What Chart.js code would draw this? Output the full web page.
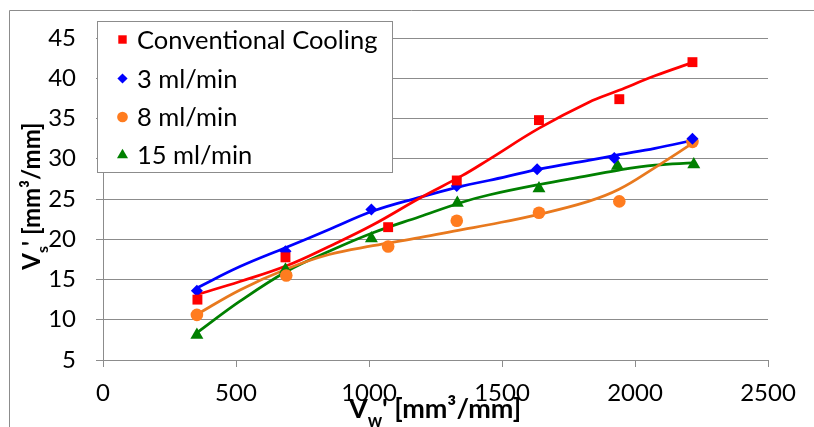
<!DOCTYPE html>
<html>
<head>
<meta charset="utf-8">
<script src="https://cdn.jsdelivr.net/npm/chart.js@4.4.1/dist/chart.umd.min.js"></script>
<style>
  body { margin: 0; background: #fff; }
  canvas { display: block; }
</style>
</head>
<body>
<canvas id="grafico" width="814" height="427"></canvas>
<script>
/* ==============================================
   DATA
   ============================================== */
const seriesNames = ['Conventional Cooling', '3 ml/min', '8 ml/min', '15 ml/min'];

const convX = [355, 686, 1072, 1330, 1639, 1941, 2216];
const convY = [12.5, 17.75, 21.5, 27.3, 34.8, 37.4, 42.0];
const ml3X  = [353, 686, 1009, 1330, 1632, 1922, 2216];
const ml3Y  = [13.6, 18.5, 23.7, 26.6, 28.7, 30.1, 32.5];
const ml8X  = [353, 689, 1072, 1330, 1639, 1941, 2216];
const ml8Y  = [10.6, 15.5, 19.1, 22.3, 23.3, 24.7, 32.1];
const ml15X = [353, 686, 1009, 1332, 1639, 1934, 2221];
const ml15Y = [8.1, 16.2, 20.1, 24.5, 26.3, 29.1, 29.3];

// trend lines at these x positions
const trendX    = [350, 515, 690, 850, 1015, 1190, 1350, 1450, 1640, 1825, 1940, 2075, 2220];
const trendConv = [13.1, 14.75, 16.7, 19.1, 21.8, 25.1, 27.9, 29.9, 33.8, 37.0, 38.5, 40.3, 42.0];
const trend3    = [13.9, 16.6, 19.0, 21.2, 23.5, 25.2, 26.6, 27.3, 28.7, 29.8, 30.5, 31.3, 32.3];
const trend8    = [10.6, 13.7, 16.3, 18.1, 19.2, 20.2, 21.2, 21.8, 23.1, 24.7, 26.2, 28.9, 32.0];
const trend15   = [8.3, 12.3, 16.0, 18.5, 20.8, 22.8, 24.6, 25.5, 26.8, 27.9, 28.6, 29.2, 29.5];

const xTicks = [0, 500, 1000, 1500, 2000, 2500];
const yTicks = [5, 10, 15, 20, 25, 30, 35, 40, 45];

/* ==============================================
   STYLE
   ============================================== */
const markerColors = ['#ff0000', '#0000ff', '#ff7c1f', '#008000'];
const lineColors   = ['#ff0000', '#0000ff', '#e8791e', '#008000'];
const markerStyles = ['rect', 'rectRot', 'circle', 'triangle'];
const markerRadius = [7, 6, 6.3, 7.5];
const gridGray = '#8c8c8c';
const FONTE = 'Lato, "Open Sans", sans-serif';

const pontos = (xs, ys) => xs.map((x, i) => ({ x: x, y: ys[i] }));

const seriesData = [pontos(convX, convY), pontos(ml3X, ml3Y), pontos(ml8X, ml8Y), pontos(ml15X, ml15Y)];
const trendData  = [trendConv, trend3, trend8, trend15].map(t => pontos(trendX, t));

const datasets = [];
trendData.forEach((d, i) => {
    datasets.push({
        type: 'line',
        label: seriesNames[i] + ' trend',
        data: d,
        showLine: true,
        borderColor: lineColors[i],
        borderWidth: 2.75,
        pointRadius: 0,
        tension: 0.4,
        fill: false,
        order: 2
    });
});
seriesData.forEach((d, i) => {
    datasets.push({
        type: 'scatter',
        label: seriesNames[i],
        data: d,
        showLine: false,
        pointStyle: markerStyles[i],
        pointRadius: markerRadius[i],
        pointBackgroundColor: markerColors[i],
        pointBorderColor: markerColors[i],
        pointBorderWidth: 0,
        order: 1
    });
});

/* ==============================================
   EXTRAS: frame, legend, axis titles
   ============================================== */
function textoComIndice(ctx, cx, cy, partes, tam) {
    const fontes = partes.map(p => 'bold ' + (p.sub ? Math.round(tam * 0.65) : tam) + 'px ' + FONTE);
    let total = 0;
    partes.forEach((p, i) => { ctx.font = fontes[i]; total += ctx.measureText(p.t).width; });
    let x = cx - total / 2;
    ctx.textAlign = 'left';
    ctx.textBaseline = 'alphabetic';
    partes.forEach((p, i) => {
        ctx.font = fontes[i];
        ctx.fillText(p.t, x, cy + (p.sub ? tam * 0.32 : 0));
        x += ctx.measureText(p.t).width;
    });
}

const extras = {
    id: 'extras',
    beforeDraw(chart) {
        const ctx = chart.ctx;
        ctx.save();
        ctx.fillStyle = '#fff';
        ctx.fillRect(0, 0, chart.width, chart.height);
        ctx.strokeStyle = gridGray;
        ctx.lineWidth = 1;
        ctx.beginPath();
        ctx.moveTo(9.5, chart.height);
        ctx.lineTo(9.5, 10.5);
        ctx.lineTo(chart.width, 10.5);
        ctx.stroke();
        ctx.restore();
    },
    afterDraw(chart) {
        const ctx = chart.ctx;
        ctx.save();
        // legend box
        ctx.fillStyle = '#fff';
        ctx.fillRect(97.5, 21.5, 295, 151);
        ctx.strokeStyle = gridGray;
        ctx.lineWidth = 1;
        ctx.strokeRect(97.5, 21.5, 295, 151);
        const linhas = [39.5, 78.5, 117, 155];
        seriesNames.forEach((nome, i) => {
            ctx.fillStyle = markerColors[i];
            ctx.strokeStyle = markerColors[i];
            Chart.helpers.drawPoint(ctx, { pointStyle: markerStyles[i], radius: markerRadius[i] * 0.85, borderWidth: 0 }, 122.5, linhas[i]);
            ctx.fillStyle = '#000';
            ctx.font = '25.5px ' + FONTE;
            ctx.textAlign = 'left';
            ctx.textBaseline = 'middle';
            ctx.fillText(nome, 137, linhas[i] + 1);
        });
        // axis titles
        ctx.fillStyle = '#000';
        textoComIndice(ctx, 435, 418, [{ t: 'V' }, { t: 'w', sub: true }, { t: "' [mm³/mm]" }], 27);
        ctx.translate(40, 196);
        ctx.rotate(-Math.PI / 2);
        textoComIndice(ctx, 0, 0, [{ t: 'V' }, { t: 's', sub: true }, { t: "' [mm³/mm]" }], 24);
        ctx.restore();
    }
};

/* ==============================================
   CHART
   ============================================== */
const grafico = new Chart(document.getElementById('grafico').getContext('2d'), {
    type: 'scatter',
    data: { datasets: datasets },
    options: {
        responsive: false,
        animation: false,
        layout: { padding: { top: 38, right: 46, left: 0, bottom: 0 } },
        plugins: { legend: { display: false }, tooltip: { enabled: false } },
        scales: {
            x: {
                type: 'linear',
                min: xTicks[0],
                max: xTicks[xTicks.length - 1],
                afterBuildTicks: s => { s.ticks = xTicks.map(v => ({ value: v })); },
                afterFit: s => { s.height = 67; },
                grid: { drawOnChartArea: false, drawTicks: true, tickLength: 7, color: gridGray },
                border: { color: gridGray, width: 1 },
                ticks: { color: '#000', font: { family: FONTE, size: 24 }, padding: 12, maxRotation: 0, callback: v => String(v) }
            },
            y: {
                type: 'linear',
                min: yTicks[0],
                max: yTicks[yTicks.length - 1],
                afterBuildTicks: s => { s.ticks = yTicks.map(v => ({ value: v })); },
                afterFit: s => { s.width = 103; },
                grid: { color: gridGray, tickLength: 7, lineWidth: 1 },
                border: { color: gridGray, width: 1 },
                ticks: { color: '#000', font: { family: FONTE, size: 24 }, padding: 20, callback: v => String(v) }
            }
        }
    },
    plugins: [extras]
});
</script>
</body>
</html>
